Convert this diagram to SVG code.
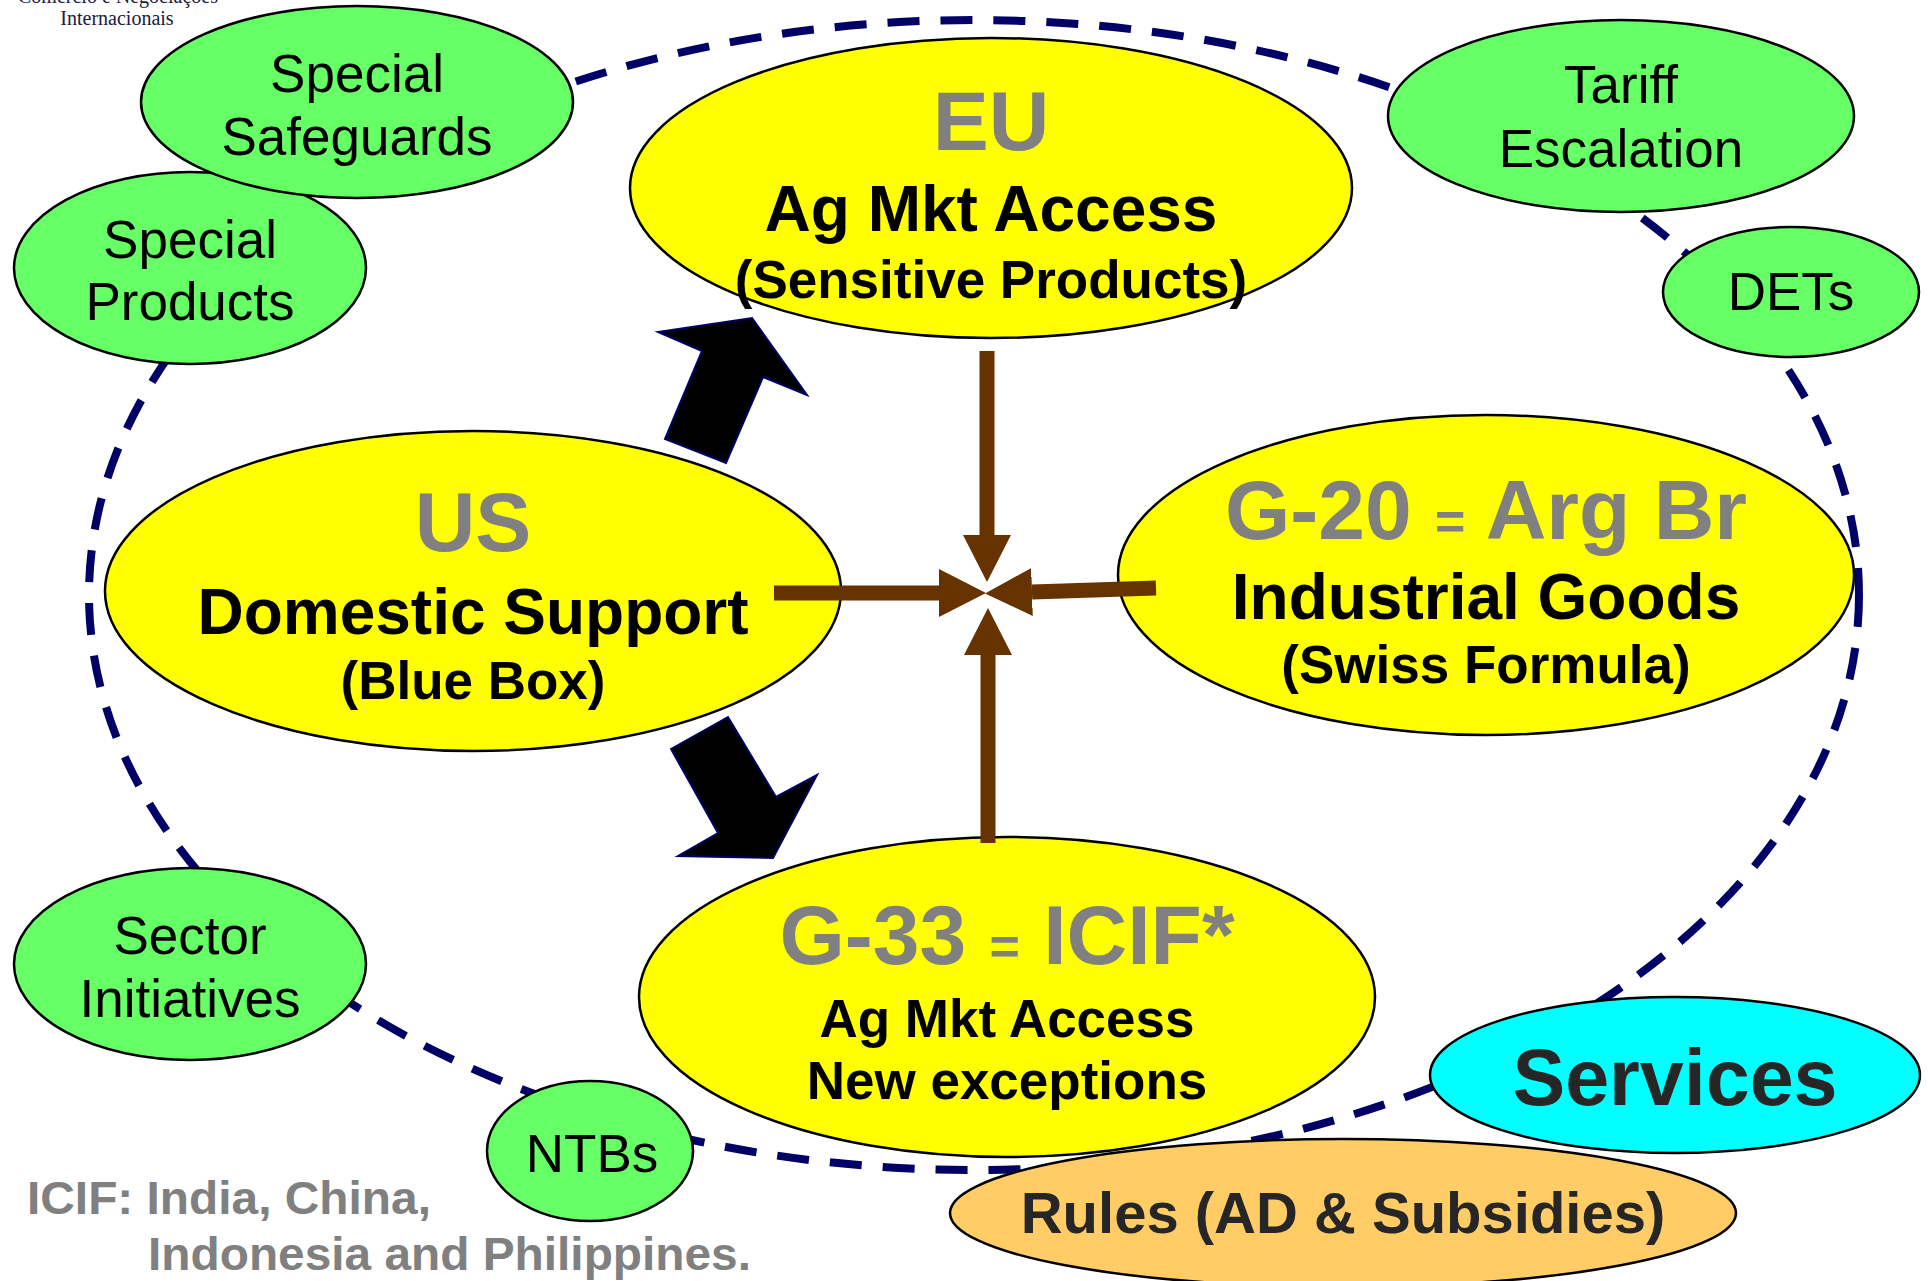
<svg xmlns="http://www.w3.org/2000/svg" width="1930" height="1281" viewBox="0 0 1930 1281">
<defs>
<style>
.b{stroke:#000;stroke-width:2.5}
.y{fill:#FFFF00}
.g{fill:#66FF66}
.t{font-family:"Liberation Sans",Arial,sans-serif;text-anchor:middle}
.h{font-weight:bold;fill:#808080;font-size:84px}
.m{font-weight:bold;fill:#000;font-size:64px}
.s{font-weight:bold;fill:#000;font-size:53px}
.r{fill:#000;font-size:53px}
.dk{font-weight:bold;fill:#262626}
.note{font-family:"Liberation Sans",Arial,sans-serif;font-weight:bold;fill:#808080;font-size:47px}
.brown{stroke:#663300;stroke-width:15;fill:none;marker-end:url(#ah)}
.blk{fill:#000;stroke:#000066;stroke-width:2}
</style>
<marker id="ah" markerUnits="userSpaceOnUse" markerWidth="48" markerHeight="48" refX="0" refY="24" orient="auto" viewBox="0 0 48 48">
<path d="M0,0 L47,24 L0,48 z" fill="#663300"/>
</marker>
</defs>
<rect width="1930" height="1281" fill="#fff"/>
<g id="logo" font-family="'Liberation Serif',serif" fill="#1a2040" font-size="20" text-anchor="middle">
<text x="118" y="3">Comércio e Negociações</text>
<text x="117" y="25">Internacionais</text>
</g>
<g id="boundary">
<ellipse cx="974" cy="595" rx="885" ry="575" fill="none" stroke="#000066" stroke-width="8" stroke-dasharray="32,21"/>
</g>
<g id="eu">
<ellipse class="b y" cx="991" cy="188" rx="361" ry="150"/>
<text class="t h" x="991" y="150">EU</text>
<text class="t m" x="991" y="231">Ag Mkt Access</text>
<text class="t s" x="991" y="298">(Sensitive Products)</text>
</g>
<g id="us">
<ellipse class="b y" cx="473" cy="591" rx="368" ry="160"/>
<text class="t h" x="473" y="551">US</text>
<text class="t m" x="473" y="634">Domestic Support</text>
<text class="t s" x="473" y="699">(Blue Box)</text>
</g>
<g id="g20">
<ellipse class="b y" cx="1486" cy="575" rx="368" ry="160"/>
<text class="t h" x="1486" y="539">G-20 <tspan font-size="52">=</tspan> Arg Br</text>
<text class="t m" x="1486" y="619">Industrial Goods</text>
<text class="t s" x="1486" y="683">(Swiss Formula)</text>
</g>
<g id="g33">
<ellipse class="b y" cx="1007" cy="997" rx="368" ry="160"/>
<text class="t h" x="1007" y="964">G-33 <tspan font-size="52">=</tspan> ICIF*</text>
<text class="t s" x="1007" y="1037">Ag Mkt Access</text>
<text class="t s" x="1007" y="1099">New exceptions</text>
</g>
<g id="products">
<ellipse class="b g" cx="190" cy="268" rx="176" ry="96"/>
<text class="t r" x="190" y="258">Special</text>
<text class="t r" x="190" y="320">Products</text>
</g>
<g id="safeguards">
<ellipse class="b g" cx="357" cy="102" rx="216" ry="96"/>
<text class="t r" x="357" y="92">Special</text>
<text class="t r" x="357" y="155">Safeguards</text>
</g>
<g id="tariff">
<ellipse class="b g" cx="1621" cy="116" rx="233" ry="96"/>
<text class="t r" x="1621" y="103">Tariff</text>
<text class="t r" x="1621" y="167">Escalation</text>
</g>
<g id="dets">
<ellipse class="b g" cx="1791" cy="292" rx="128" ry="65"/>
<text class="t r" x="1791" y="310">DETs</text>
</g>
<g id="sector">
<ellipse class="b g" cx="190" cy="964" rx="176" ry="96"/>
<text class="t r" x="190" y="954">Sector</text>
<text class="t r" x="190" y="1017">Initiatives</text>
</g>
<g id="ntbs">
<ellipse class="b g" cx="590" cy="1151" rx="103" ry="70"/>
<text class="t r" x="592" y="1172">NTBs</text>
</g>
<g id="rules">
<ellipse class="b" fill="#FFCC66" cx="1343" cy="1213" rx="393" ry="74"/>
<text class="t dk" font-size="58" x="1343" y="1233">Rules (AD &amp; Subsidies)</text>
</g>
<g id="services">
<ellipse class="b" fill="#00FFFF" cx="1675" cy="1075" rx="245" ry="78"/>
<text class="t dk" font-size="79" x="1675" y="1105">Services</text>
</g>
<g id="connectors">
<line class="brown" x1="987" y1="351" x2="987" y2="535"/>
<line class="brown" x1="774" y1="593" x2="939" y2="593"/>
<line class="brown" x1="1156" y1="588" x2="1032" y2="592"/>
<line class="brown" x1="988" y1="843" x2="988" y2="655"/>
<polygon class="blk" points="658,332 752,318 807,395 763,377 726,463 665,439 702,351"/>
<polygon class="blk" points="671,749 728,717 776,797 817,775 773,858 678,856 718,833"/>
</g>
<g id="footnote">
<text class="note" x="27" y="1214" textLength="404" lengthAdjust="spacingAndGlyphs">ICIF: India, China,</text>
<text class="note" x="148" y="1270" textLength="603" lengthAdjust="spacingAndGlyphs">Indonesia and Philippines.</text>
</g>
</svg>
